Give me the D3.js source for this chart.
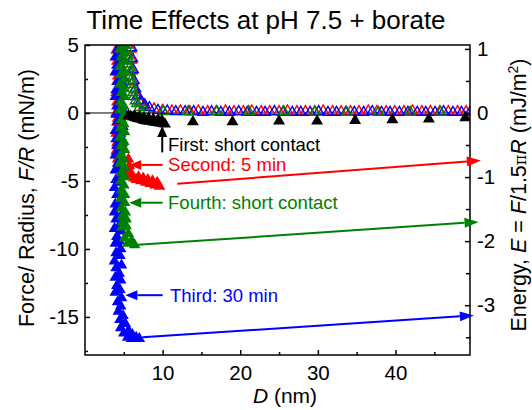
<!DOCTYPE html>
<html>
<head>
<meta charset="utf-8">
<script src="https://cdn.jsdelivr.net/npm/d3@7"></script>
<style>
  body { margin: 0; background: #fff; }
  text { font-family: "Liberation Sans", Arial, sans-serif; }
</style>
</head>
<body>
<div id="chart"></div>
<script>
// Chart size and margins
const CHART_WIDTH = 532;
const CHART_HEIGHT = 410;
const MARGIN = { left: 85, right: 62, top: 45, bottom: 55 };

// Axis ticks
const xTicks = [10, 20, 30, 40];
const xMinorTicks = [5, 15, 25, 35, 45];
const yTicks = [5, 0, -5, -10, -15];
const yMinorTicks = [2.5, -2.5, -7.5, -12.5, -17.5];
const eTicks = [1, 0, -1, -2, -3];
const eMinorTicks = [0.5, -0.5, -1.5, -2.5, -3.5];

// Approach (open triangles): D (nm), F/R (mN/m)
const redApprD = [5.9, 6.0, 6.1, 6.2, 6.4, 6.7, 7.1, 7.6, 8.9, 10.0, 11.2, 12.3, 13.5, 14.6, 15.8, 16.9, 18.1, 19.2, 20.4, 21.5, 22.7, 23.8, 25.0, 26.1, 27.3, 28.4, 29.6, 30.7, 31.9, 33.0, 34.2, 35.3, 36.5, 37.6, 38.8, 39.9, 41.1, 42.2, 43.4, 44.5, 45.7, 46.8, 48.0, 49.1];
const redApprF = [4.7, 3.9, 3.1, 2.3, 1.7, 1.2, 0.8, 0.5, 0.3, 0.2, 0.15, 0.15, 0.1, 0.15, 0.1, 0.1, 0.15, 0.1, 0.1, 0.15, 0.1, 0.1, 0.1, 0.15, 0.1, 0.1, 0.1, 0.15, 0.1, 0.1, 0.1, 0.1, 0.15, 0.1, 0.1, 0.1, 0.1, 0.15, 0.1, 0.1, 0.1, 0.1, 0.1, 0.1];
const blueApprD = [6.0, 6.1, 6.2, 6.3, 6.5, 6.8, 7.2, 7.7, 8.3, 9.4, 10.6, 11.7, 12.9, 14.0, 15.2, 16.3, 17.5, 18.6, 19.8, 20.9, 22.1, 23.2, 24.4, 25.5, 26.7, 27.8, 29.0, 30.1, 31.3, 32.4, 33.6, 34.7, 35.9, 37.0, 38.2, 39.3, 40.5, 41.6, 42.8, 43.9, 45.1, 46.2, 47.4, 48.5, 49.6];
const blueApprF = [4.8, 4.0, 3.2, 2.4, 1.8, 1.3, 0.9, 0.6, 0.4, 0.2, 0.15, 0.1, 0.1, 0.1, 0.05, 0.1, 0.05, 0.05, 0.1, 0.05, 0.05, 0.05, 0.1, 0.05, 0.05, 0.05, 0.05, 0.1, 0.05, 0.05, 0.05, 0.05, 0.05, 0.1, 0.05, 0.05, 0.05, 0.05, 0.05, 0.05, 0.05, 0.1, 0.05, 0.05, 0.05];
const greenApprD = [5.4, 5.5, 5.5, 5.6, 5.6, 5.7, 5.8, 5.8, 5.9, 6.0, 6.1, 6.2, 6.3, 6.5, 6.7, 7.0, 7.7, 10.1, 13.3, 17.0, 21.1, 25.6, 29.6, 33.7, 37.8, 41.9, 45.8];
const greenApprF = [5.0, 4.6, 4.2, 3.9, 3.6, 3.3, 3.0, 2.7, 2.4, 2.1, 1.8, 1.5, 1.2, 0.9, 0.7, 0.4, 0.2, 0.1, 0.1, 0.1, 0.1, 0.1, 0.05, 0.05, 0.05, 0.05, 0.05];

// Retraction (filled triangles): D (nm), F/R (mN/m)
const redRetD = [4.1, 4.4, 4.0, 4.3, 4.1, 4.4, 4.0, 4.2, 4.1, 4.4, 4.0, 4.3, 4.1, 4.4, 4.0, 4.2, 4.1, 4.3, 4.0, 4.4, 4.1, 4.3, 4.0, 4.4, 4.2, 4.5, 4.7, 5.0, 5.3, 5.6, 5.7, 5.8, 6.0, 6.3, 6.6, 6.9, 7.2, 7.5, 7.8, 8.1, 8.4, 8.7, 9.0, 9.3, 9.6];
const redRetF = [5.4, 5.0, 4.6, 4.2, 3.8, 3.5, 3.1, 2.7, 2.3, 1.9, 1.5, 1.2, 0.8, 0.4, 0.0, -0.4, -0.7, -1.1, -1.5, -1.8, -2.2, -2.5, -2.8, -3.1, -3.4, -3.6, -3.9, -4.1, -4.4, -3.4, -3.9, -4.3, -4.6, -4.8, -4.9, -4.7, -5.0, -4.8, -5.1, -4.9, -5.2, -5.0, -5.3, -5.1, -5.4];
const blueRetD = [4.0, 4.7, 4.2, 4.9, 3.9, 4.6, 4.1, 4.8, 3.9, 4.5, 4.2, 4.9, 4.0, 4.7, 3.9, 4.6, 4.1, 4.8, 4.0, 4.5, 4.2, 4.9, 3.9, 4.6, 4.0, 4.8, 4.1, 4.5, 3.9, 4.7, 4.2, 4.6, 3.9, 4.8, 4.0, 4.5, 3.8, 4.7, 4.1, 4.6, 3.9, 4.4, 3.8, 4.6, 4.0, 4.5, 3.8, 4.7, 4.1, 4.4, 3.9, 4.6, 4.0, 4.5, 3.8, 4.7, 4.0, 4.4, 3.9, 4.6, 4.1, 4.5, 3.9, 4.7, 4.2, 4.6, 4.3, 4.9, 4.5, 5.2, 4.6, 5.6, 5.0, 6.1, 5.5, 6.6, 6.0, 7.0];
const blueRetF = [5.4, 5.1, 4.7, 4.5, 4.1, 3.9, 3.5, 3.2, 3.0, 2.6, 2.3, 2.1, 1.7, 1.4, 1.2, 0.8, 0.5, 0.3, -0.1, -0.4, -0.6, -1.0, -1.3, -1.5, -1.9, -2.2, -2.4, -2.8, -3.1, -3.3, -3.7, -4.0, -4.2, -4.6, -4.9, -5.1, -5.5, -5.8, -6.0, -6.4, -6.7, -6.9, -7.3, -7.6, -7.8, -8.2, -8.5, -8.7, -9.1, -9.4, -9.6, -10.0, -10.3, -10.5, -10.9, -11.2, -11.4, -11.8, -12.1, -12.3, -12.7, -13.0, -13.2, -13.6, -13.9, -14.2, -14.6, -14.9, -15.2, -15.5, -15.8, -16.0, -16.2, -16.3, -16.5, -16.5, -16.6, -16.6];
const greenRetD = [4.6, 5.0, 4.5, 5.0, 4.7, 5.1, 4.5, 5.0, 4.6, 5.1, 4.5, 5.0, 4.7, 5.1, 4.6, 5.0, 4.5, 5.1, 4.7, 5.0, 4.6, 5.1, 4.5, 5.0, 4.7, 5.1, 4.6, 5.0, 4.5, 5.1, 4.7, 5.1, 4.6, 5.0, 4.7, 5.1, 4.6, 5.1, 4.7, 5.2, 4.8, 5.3, 4.9, 5.3, 4.8, 5.6, 5.1, 6.0, 5.5, 6.4];
const greenRetF = [5.4, 5.1, 4.7, 4.4, 4.1, 3.8, 3.4, 3.1, 2.8, 2.5, 2.1, 1.8, 1.5, 1.2, 0.8, 0.5, 0.2, -0.1, -0.5, -0.8, -1.1, -1.4, -1.8, -2.1, -2.4, -2.7, -3.1, -3.4, -3.7, -4.0, -4.4, -4.7, -5.0, -5.3, -5.7, -6.0, -6.3, -6.6, -7.0, -7.3, -7.6, -7.8, -8.0, -8.3, -8.4, -8.9, -9.2, -9.4, -9.6, -9.7];
const blackRetD = [5.6, 5.9, 6.2, 6.5, 6.8, 7.1, 7.4, 7.7, 8.0, 8.4, 8.8, 9.2, 9.6, 10.0, 10.3, 6.4, 7.0, 7.6, 8.2, 8.8, 9.4, 9.9, 13.9, 19.0, 25.0, 29.9, 34.8, 39.6, 44.3, 49.0];
const blackRetF = [-0.2, -0.25, -0.3, -0.35, -0.4, -0.45, -0.5, -0.55, -0.6, -0.62, -0.66, -0.7, -0.74, -0.78, -0.82, -0.25, -0.3, -0.35, -0.4, -0.45, -0.5, -0.55, -0.65, -0.65, -0.6, -0.6, -0.55, -0.5, -0.45, -0.35];

// Arrows from adhesion minimum to the energy axis: start (D, F/R), end (D, E)
const arrowStart = [[11.9, -5.2], [6.8, -9.7], [7.4, -16.5]];
const arrowEnd = [[51.0, -0.74], [50.7, -1.70], [50.1, -3.16]];
const arrowColors = ["#ff0000", "#008000", "#0000ff"];

// Labels
const labelTexts = ["First: short contact", "Second: 5 min", "Fourth: short contact", "Third: 30 min"];
const labelColors = ["#000000", "#ff0000", "#008000", "#0000ff"];
const labelF = [-2.35, -3.82, -6.6, -13.4];

draw();

function draw() {
    const w = CHART_WIDTH - MARGIN.left - MARGIN.right;
    const h = CHART_HEIGHT - MARGIN.top - MARGIN.bottom;
    const k = 1.5 * Math.PI;

    const svg = d3.select("#chart").append("svg")
        .attr("width", CHART_WIDTH).attr("height", CHART_HEIGHT);
    const g = svg.append("g").attr("transform", `translate(${MARGIN.left},${MARGIN.top})`);

    const x = d3.scaleLinear().domain([0, 49.6]).range([0, w]);
    const y = d3.scaleLinear().domain([-17.8, 5]).range([h, 0]);
    const yE = d3.scaleLinear().domain([-17.8 / k, 5 / k]).range([h, 0]);

    svg.append("defs").append("clipPath").attr("id", "clip")
        .append("rect").attr("width", w).attr("height", h);

    // Title
    svg.append("text").attr("x", 266).attr("y", 29).attr("text-anchor", "middle")
        .attr("font-size", 26).text("Time Effects at pH 7.5 + borate");

    // Zero line
    g.append("line").attr("x1", 0).attr("x2", w).attr("y1", y(0)).attr("y2", y(0))
        .attr("stroke", "#000").attr("stroke-width", 1);

    // Axes
    const fmt = d => String(d);
    g.append("g").attr("transform", `translate(0,${h})`)
        .call(d3.axisBottom(x).tickValues(xTicks).tickSize(-5).tickPadding(10).tickFormat(fmt));
    g.append("g").attr("transform", `translate(0,${h})`)
        .call(d3.axisBottom(x).tickValues(xMinorTicks).tickSize(-3).tickFormat(""));
    g.append("g")
        .call(d3.axisLeft(y).tickValues(yTicks).tickSize(-5).tickPadding(6).tickFormat(fmt));
    g.append("g").call(d3.axisLeft(y).tickValues(yMinorTicks).tickSize(-3).tickFormat(""));
    g.append("g").attr("transform", `translate(${w},0)`)
        .call(d3.axisRight(yE).tickValues(eTicks).tickSize(-5).tickPadding(7).tickFormat(fmt));
    g.append("g").attr("transform", `translate(${w},0)`)
        .call(d3.axisRight(yE).tickValues(eMinorTicks).tickSize(-4).tickFormat(""));

    g.selectAll(".domain").remove();
    g.selectAll(".tick line").attr("stroke", "#000").attr("stroke-width", 1.5);
    g.selectAll(".tick text").attr("font-size", 20.5).attr("fill", "#000")
        .attr("font-family", "'Liberation Sans', Arial, sans-serif");

    // Data layer
    const plot = g.append("g").attr("clip-path", "url(#clip)");
    const triWall = d3.symbol(d3.symbolTriangle, 58)();
    const triOpen = d3.symbol(d3.symbolTriangle, 46)();
    const triBig = d3.symbol(d3.symbolTriangle, 62)();

    function filled(D, F, color, path) {
        plot.append("g").selectAll("path").data(D.map((d, i) => [d, F[i]])).enter()
            .append("path").attr("d", path)
            .attr("transform", d => `translate(${x(d[0])},${y(d[1])})`)
            .attr("fill", color);
    }
    function open(D, F, color) {
        plot.append("g").selectAll("path").data(D.map((d, i) => [d, F[i]])).enter()
            .append("path").attr("d", triOpen)
            .attr("transform", d => `translate(${x(d[0])},${y(d[1])})`)
            .attr("fill", "none").attr("stroke", color).attr("stroke-width", 1.4);
    }

    filled(redRetD, redRetF, "#ff0000", triWall);
    open(redApprD, redApprF, "#ff0000");
    filled(blueRetD, blueRetF, "#0000ff", triWall);
    open(blueApprD, blueApprF, "#0000ff");
    filled(greenRetD, greenRetF, "#008000", triWall);
    open(greenApprD, greenApprF, "#008000");
    filled(blackRetD, blackRetF, "#000000", triBig);

    // Frame
    g.append("rect").attr("width", w).attr("height", h)
        .attr("fill", "none").attr("stroke", "#000").attr("stroke-width", 1.5);

    function arrow(x1, y1, x2, y2, color, len, half) {
        const a = Math.atan2(y2 - y1, x2 - x1);
        const bx = x2 - len * Math.cos(a), by = y2 - len * Math.sin(a);
        g.append("line").attr("x1", x1).attr("y1", y1).attr("x2", bx).attr("y2", by)
            .attr("stroke", color).attr("stroke-width", 2);
        const p = [[x2, y2],
            [bx + half * Math.sin(a), by - half * Math.cos(a)],
            [bx - half * Math.sin(a), by + half * Math.cos(a)]];
        g.append("polygon").attr("points", p.map(q => q.join(",")).join(" ")).attr("fill", color);
    }

    // Long arrows to the energy axis
    arrowStart.forEach((s, i) => {
        arrow(x(s[0]), y(s[1]), x(arrowEnd[i][0]), yE(arrowEnd[i][1]), arrowColors[i], 14, 5);
    });

    // Labels with their arrows
    labelTexts.forEach((t, i) => {
        const tx = i === 3 ? 10.95 : 10.7;
        g.append("text").attr("x", x(tx)).attr("y", y(labelF[i])).attr("dy", "0.35em")
            .attr("font-size", 18.5).attr("fill", labelColors[i]).text(t);
        if (i === 0) {
            arrow(x(9.95), y(-2.9), x(9.95), y(-0.95), labelColors[i], 11, 5);
        } else {
            const tip = i === 3 ? 5.2 : 5.7;
            arrow(x(10.0), y(labelF[i]), x(tip), y(labelF[i]), labelColors[i], 12, 5);
        }
    });

    // Axis titles
    const xl = svg.append("text").attr("x", 285).attr("y", 403).attr("text-anchor", "middle")
        .attr("font-size", 21);
    xl.append("tspan").attr("font-style", "italic").text("D");
    xl.append("tspan").text(" (nm)");

    const yl = svg.append("text").attr("transform", "translate(34,198) rotate(-90)")
        .attr("text-anchor", "middle").attr("font-size", 21.5);
    yl.append("tspan").text("Force/ Radius,  ");
    yl.append("tspan").attr("font-style", "italic").text("F/R");
    yl.append("tspan").text(" (mN/m)");

    const el = svg.append("text").attr("transform", "translate(526,195) rotate(-90)")
        .attr("text-anchor", "middle").attr("font-size", 21.5);
    el.append("tspan").text("Energy, ");
    el.append("tspan").attr("font-style", "italic").text("E");
    el.append("tspan").text(" = ");
    el.append("tspan").attr("font-style", "italic").text("F");
    el.append("tspan").text("/1.5");
    el.append("tspan").attr("font-family", "'DejaVu Serif', serif").attr("font-size", 16).text("π");
    el.append("tspan").attr("font-style", "italic").text("R");
    el.append("tspan").text(" (mJ/m");
    el.append("tspan").attr("font-size", 14).attr("dy", "-0.6em").text("2");
    el.append("tspan").attr("dy", "0.4em").text(")");
}
</script>
</body>
</html>
